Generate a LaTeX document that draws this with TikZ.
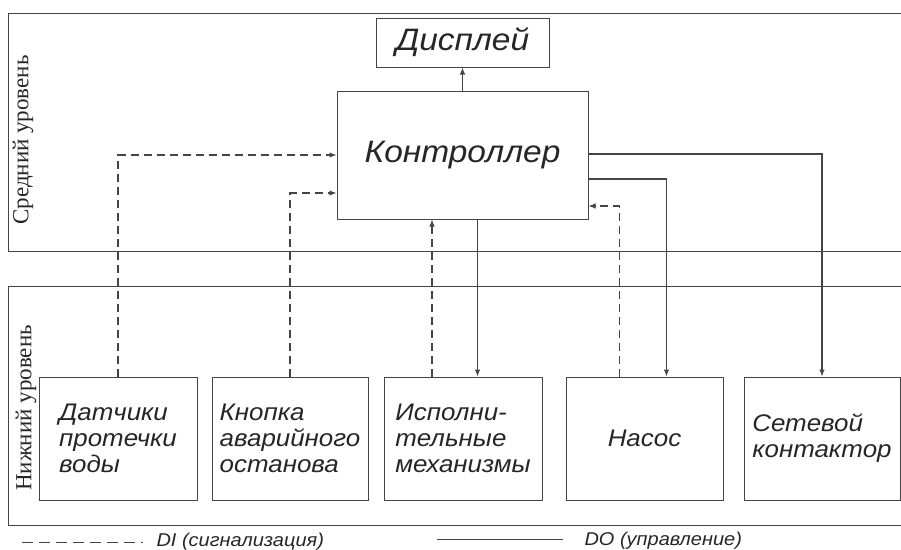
\documentclass[tikz,border=0pt]{standalone}
\usepackage{fontspec}
\setmainfont{Liberation Sans}
\newfontfamily\boxfont[FakeStretch=1.08]{Liberation Sans}
\newfontfamily\levelfont{Liberation Serif}
\usepackage{xcolor}
\usetikzlibrary{shapes,arrows,arrows.meta,positioning}

\definecolor{linegray}{HTML}{454545}

\begin{document}
\begin{tikzpicture}[x=1pt, y=-1pt, auto,
    panel/.style={rectangle, draw=linegray, line width=1pt, inner sep=0pt},
    block/.style={rectangle, draw=linegray, line width=1pt, align=left, inner sep=0pt, minimum height=123pt, font=\boxfont\fontsize{24}{26}\selectfont\itshape, text=black!85},
    big/.style={rectangle, draw=linegray, line width=1pt, font=\boxfont\fontsize{31}{34}\selectfont\itshape, text=black!85},
    level/.style={rotate=90, font=\levelfont\fontsize{23}{26}\selectfont, text=black!85},
    legend/.style={font=\boxfont\fontsize{18.5}{20}\selectfont\itshape, text=black!85},
    arrow/.style={draw=linegray, line width=1.1pt, -{Latex[length=7pt,width=5.5pt]}},
    di/.style={arrow, dash pattern=on 8pt off 5pt},
    do/.style={arrow}]

    \useasboundingbox (0,0) rectangle (901,549);

    % levels
    \node [panel, minimum width=895pt, minimum height=238pt] (mid) at (455.5,132) {};
    \node [panel, minimum width=895pt, minimum height=239pt] (low) at (455.5,405.5) {};
    \node [level] (midlabel) at (23,140) {Средний уровень};
    \node [level] (lowlabel) at (26,408) {Нижний уровень};

    % middle level
    \node [big, minimum width=173pt, minimum height=49pt] (disp) at (462.5,42.5) {Дисплей};
    \node [big, fill=white, minimum width=251pt, minimum height=128pt] (ctrl) at (462.5,155) {Контроллер};

    % lower level
    \node [block, minimum width=158pt] (sens) at (118,438.5) {Датчики\\протечки\\воды};
    \node [block, minimum width=156pt] (btn) at (290,438.5) {Кнопка\\аварийного\\останова};
    \node [block, minimum width=158pt] (act) at (463,438.5) {Исполни-\\тельные\\механизмы};
    \node [block, minimum width=157pt] (pump) at (644.5,438.5) {Насос};
    \node [block, minimum width=156pt] (cont) at (822,438.5) {Сетевой\\контактор};

    % DI
    \draw [di] (sens.north) |- (ctrl.west);
    \draw [di] (btn.north) |- ([yshift=-38pt]ctrl.west);
    \draw [di] ([xshift=-31pt]act.north) -- ([xshift=-31pt]act.north |- ctrl.south);
    \draw [di] ([xshift=-25pt]pump.north) |- ([yshift=-51pt]ctrl.east);

    % DO
    \draw [do] (ctrl.north) -- (disp.south);
    \draw [do] ([xshift=15pt]ctrl.south) -- ([xshift=15pt]ctrl.south |- act.north);
    \draw [do] ([yshift=-24pt]ctrl.east) -| ([xshift=22pt]pump.north);
    \draw [do] ([yshift=1pt]ctrl.east) -| (cont.north);

    % legend
    \coordinate (dia) at (22,542);
    \coordinate (dib) at (143,542);
    \coordinate (doa) at (437,539);
    \coordinate (dob) at (563,539);
    \draw [draw=linegray, line width=1pt, dash pattern=on 11pt off 6pt] (dia) -- (dib);
    \draw [draw=linegray, line width=1pt] (doa) -- (dob);
    \node [legend, anchor=west] (dilabel) at (153,542) {DI (сигнализация)};
    \node [legend, anchor=west] (dolabel) at (581,541) {DO (управление)};
\end{tikzpicture}
\end{document}
